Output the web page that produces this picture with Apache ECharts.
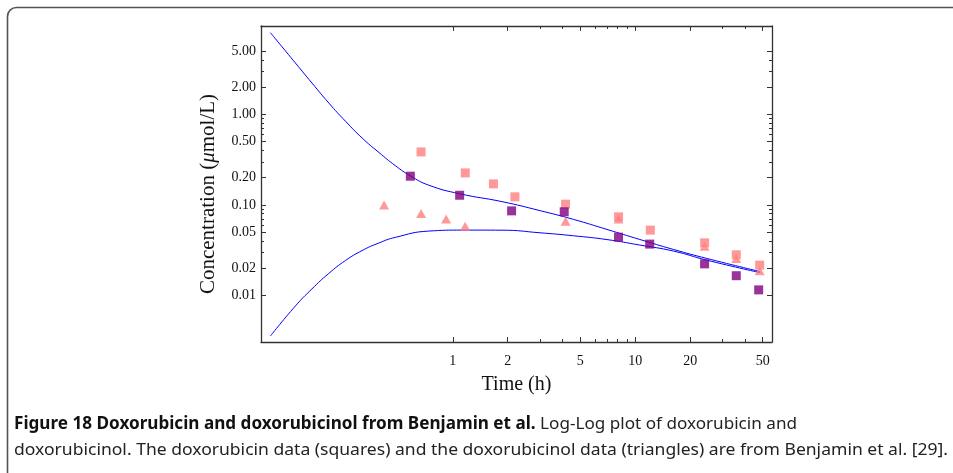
<!DOCTYPE html>
<html>
<head>
<meta charset="utf-8">
<script src="https://cdn.jsdelivr.net/npm/echarts@6/dist/echarts.min.js"></script>
<style>
html,body{margin:0;padding:0;background:#fff;}
#chart{width:953px;height:473px;}
</style>
</head>
<body>
<div id="chart"></div>
<script>
// ---- data (time in h, concentration in µmol/L) ----
var doxModelT = [0.1, 0.137, 0.169, 0.209, 0.258, 0.318, 0.393, 0.484, 0.585, 0.738, 1.09, 1.86, 3.01, 4.59, 7.0, 10.6, 16.2, 24.7, 48.5];
var doxModelC = [8.05, 3.72, 2.23, 1.34, 0.843, 0.551, 0.381, 0.272, 0.21, 0.1655, 0.133, 0.1088, 0.0865, 0.0692, 0.0536, 0.0415, 0.0322, 0.0256, 0.0183];
var olModelT = [0.1, 0.137, 0.169, 0.209, 0.258, 0.318, 0.393, 0.484, 0.738, 1.125, 1.86, 3.01, 4.59, 7.0, 10.6, 16.2, 24.7, 48.5];
var olModelC = [0.00355, 0.00762, 0.0118, 0.0175, 0.0243, 0.0313, 0.0379, 0.0438, 0.0514, 0.0527, 0.0526, 0.0492, 0.0456, 0.0414, 0.036, 0.0309, 0.0245, 0.0178];

var purpleT = [0.585, 1.09, 2.1, 4.08, 8.1, 12.0, 24.0, 35.8, 47.5];
var purpleC = [0.208, 0.128, 0.086, 0.084, 0.044, 0.0369, 0.0223, 0.0165, 0.0115];

var pinkSqT = [0.67, 1.17, 1.67, 2.19, 4.15, 8.1, 12.1, 24.0, 35.8, 48.1];
var pinkSqC = [0.386, 0.226, 0.171, 0.123, 0.102, 0.0739, 0.0527, 0.0381, 0.0281, 0.0216];

var triT = [0.42, 0.67, 0.919, 1.168, 4.15, 8.1, 24.0, 35.8, 48.1];
var triC = [0.1, 0.0805, 0.0697, 0.0583, 0.0662, 0.0697, 0.035, 0.0256, 0.0187];

var xMajor = [1, 2, 5, 10, 20, 50];
var xMinor = [3, 4, 6, 7, 8, 9, 30, 40];
var yMajor = [0.01, 0.02, 0.05, 0.1, 0.2, 0.5, 1, 2, 5];
var yMinor = [0.03, 0.04, 0.06, 0.07, 0.08, 0.09, 0.3, 0.4, 0.6, 0.7, 0.8, 0.9, 3, 4];

var xName = 'Time (h)';
var captionBold = 'Figure 18 Doxorubicin and doxorubicinol from Benjamin et al.';
var captionLine1 = 'Log-Log plot of doxorubicin and';
var captionLine2 = 'doxorubicinol. The doxorubicin data (squares) and the doxorubicinol data (triangles) are from Benjamin et al. [29].';

function zip(a, b) { return a.map(function (v, i) { return [v, b[i]]; }); }

var X_MIN = 0.0888, X_MAX = 56.2, Y_MIN = 0.00305, Y_MAX = 9.53;
var AX = '#333';
var serif = '"Liberation Serif", "DejaVu Serif", serif';

function xAx(pos, vals, len, labels, line) {
  return {
    type: 'log', position: pos, min: X_MIN, max: X_MAX,
    axisLine: { show: line, onZero: false, lineStyle: { color: AX, width: 1.3 } },
    axisTick: { show: true, inside: true, length: len, customValues: vals, lineStyle: { color: AX, width: 1 } },
    axisLabel: labels ? { show: true, customValues: vals, margin: 12, color: '#111', fontFamily: serif, fontSize: 14,
      formatter: function (v) { return String(Math.round(v)); } } : { show: false },
    splitLine: { show: false }, minorTick: { show: false }, minorSplitLine: { show: false }
  };
}
function yAx(pos, vals, len, labels, line) {
  return {
    type: 'log', position: pos, min: Y_MIN, max: Y_MAX,
    axisLine: { show: line, onZero: false, lineStyle: { color: AX, width: 1.3 } },
    axisTick: { show: true, inside: true, length: len, customValues: vals, lineStyle: { color: AX, width: 1 } },
    axisLabel: labels ? { show: true, customValues: vals, margin: 5, color: '#111', fontFamily: serif, fontSize: 14,
      formatter: function (v) { return Number(v).toFixed(2); } } : { show: false },
    splitLine: { show: false }, minorTick: { show: false }, minorSplitLine: { show: false }
  };
}

var xAxes = [xAx('bottom', xMajor, 5, true, true), xAx('bottom', xMinor, 3, false, false),
             xAx('top', xMajor, 5, false, true), xAx('top', xMinor, 3, false, false)];
xAxes[0].name = xName;
xAxes[0].nameLocation = 'middle';
xAxes[0].nameGap = 33;
xAxes[0].nameTextStyle = { fontFamily: serif, fontSize: 20, color: '#111' };

var yAxes = [yAx('left', yMajor, 5, true, true), yAx('left', yMinor, 3, false, false),
             yAx('right', yMajor, 5, false, true), yAx('right', yMinor, 3, false, false)];
yAxes[0].name = '{n|Concentration (}{i|\u03BC}{n|mol/L)}';
yAxes[0].nameLocation = 'middle';
yAxes[0].nameRotate = 90;
yAxes[0].nameGap = 42;
yAxes[0].nameTextStyle = { fontFamily: serif, fontSize: 21, color: '#111', padding: [0, 20, 0, 0],
  rich: { n: { fontFamily: serif, fontSize: 21, color: '#111' },
          i: { fontFamily: serif, fontSize: 21, color: '#111', fontStyle: 'italic' } } };

// caption width fitting
var cnv = document.createElement('canvas').getContext('2d');
var CF = '"Noto Sans", "Open Sans", sans-serif';
var FS = 17;
function tw(font, s) { cnv.font = font; return cnv.measureText(s).width; }
var w1 = tw('bold ' + FS + 'px ' + CF, captionBold + ' ') + tw(FS + 'px ' + CF, captionLine1);
var w2 = tw(FS + 'px ' + CF, captionLine2);
var s1 = (797 - 14) / w1, s2 = (948 - 14) / w2;

var chart = echarts.init(document.getElementById('chart'), null, { renderer: 'canvas' });
chart.setOption({
  animation: false,
  backgroundColor: '#fff',
  grid: { left: 261, top: 26, width: 511, height: 316, show: false },
  xAxis: xAxes,
  yAxis: yAxes,
  series: [
    { type: 'line', data: zip(doxModelT, doxModelC), smooth: 0.5, showSymbol: false, symbol: 'none',
      lineStyle: { color: '#0000ff', width: 1 }, z: 2 },
    { type: 'line', data: zip(olModelT, olModelC), smooth: 0.5, showSymbol: false, symbol: 'none',
      lineStyle: { color: '#0000ff', width: 1 }, z: 2 },
    { type: 'scatter', data: zip(triT, triC), symbol: 'triangle', symbolSize: [10, 9],
      itemStyle: { color: '#ff8080' }, z: 3 },
    { type: 'scatter', data: zip(pinkSqT, pinkSqC), symbol: 'rect', symbolSize: 9,
      itemStyle: { color: '#ff8080' }, z: 4 },
    { type: 'scatter', data: zip(purpleT, purpleC), symbol: 'rect', symbolSize: 9,
      itemStyle: { color: '#800080' }, z: 5 }
  ],
  graphic: [
    { type: 'rect', shape: { x: 7.5, y: 7.5, width: 990, height: 520, r: 9 },
      style: { fill: 'none', stroke: '#555', lineWidth: 1.6 }, z: 100 },
    { type: 'text', x: 14, y: 424, scaleX: s1, scaleY: 1,
      style: { text: '{b|' + captionBold + ' }{n|' + captionLine1 + '}', verticalAlign: 'middle', align: 'left',
        rich: { b: { fontFamily: CF, fontWeight: 'bold', fontSize: FS, fill: '#111' },
                n: { fontFamily: CF, fontSize: FS, fill: '#222' } } }, z: 100 },
    { type: 'text', x: 14, y: 450, scaleX: s2, scaleY: 1,
      style: { text: captionLine2, font: FS + 'px ' + CF, fill: '#222', verticalAlign: 'middle', align: 'left' }, z: 100 }
  ]
});
</script>
</body>
</html>
